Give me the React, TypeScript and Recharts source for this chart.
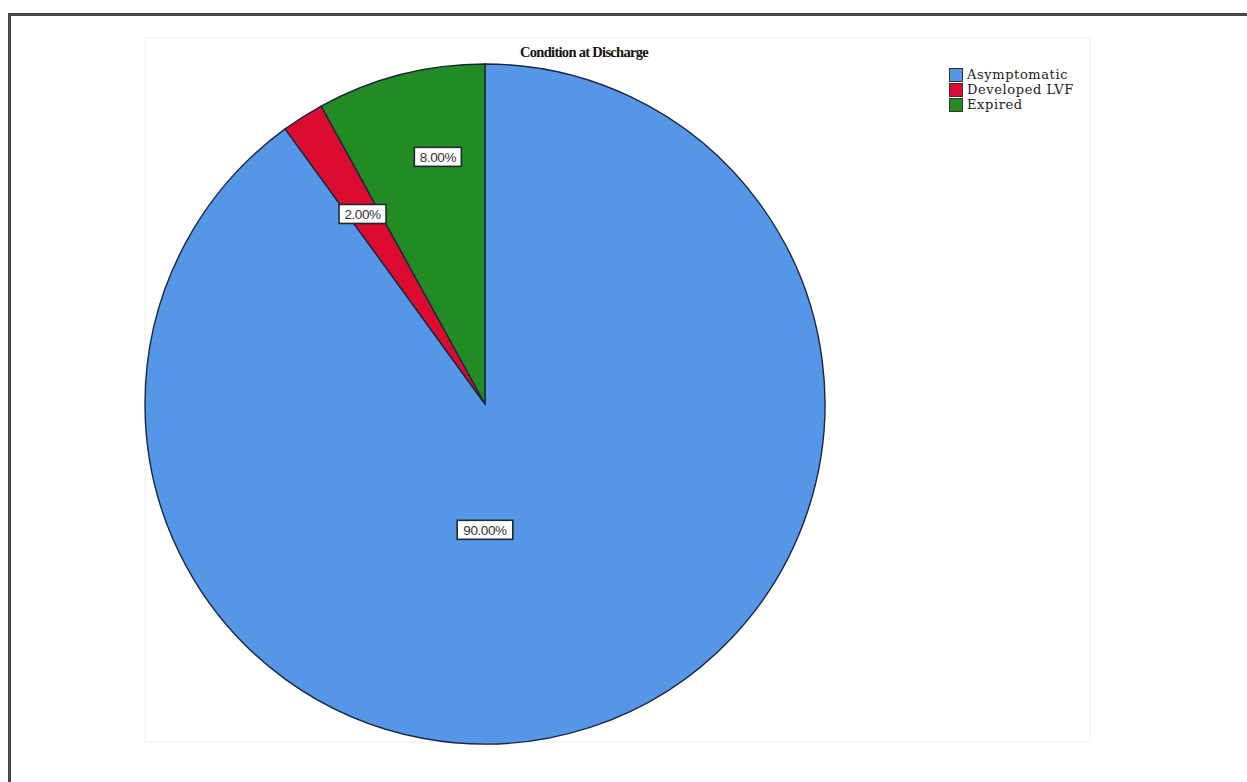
import React from "react";
import { PieChart, Pie, Cell, Legend, Customized } from "recharts";

const categories = ["Asymptomatic", "Developed LVF", "Expired"];
const percentages = [90, 2, 8];
const percentLabels = ["90.00%", "2.00%", "8.00%"];

const COLORS = ["#5596E6", "#DC0C30", "#238B24"];
// label placement: angle (deg clockwise from 12 o'clock) and radius fraction
const LABEL_ANGLE = [180, -32.8, -10.8];
const LABEL_RFRAC = [0.37, 0.665, 0.74];

const data = categories.map((name, i) => ({ name, value: percentages[i] }));

const SERIF = "'DejaVu Serif', 'Liberation Serif', serif";
const TIMES = "'Liberation Serif', 'Times New Roman', serif";
const SANS = "'Liberation Sans', Arial, sans-serif";

const renderLabel = (props: any) => {
  const { cx, cy, outerRadius, index } = props;
  const a = (LABEL_ANGLE[index] * Math.PI) / 180;
  const r = outerRadius * LABEL_RFRAC[index];
  const x = cx + Math.sin(a) * r;
  const y = cy - Math.cos(a) * r;
  const text = percentLabels[index];
  const w = text.length * 8.6 + 4;
  const h = 19;
  return (
    <g key={`lbl-${index}`}>
      <rect x={x - w / 2} y={y - h / 2} width={w} height={h} fill="#ffffff" stroke="#1f2a30" strokeWidth={1.6} />
      <text x={x} y={y + 5} textAnchor="middle" fontFamily={SANS} fontSize={13.5} letterSpacing={-0.4} fill="#333">
        {text}
      </text>
    </g>
  );
};

const renderLegend = () => (
  <div style={{ fontFamily: SERIF, fontSize: 13, letterSpacing: 0.6, color: "#222" }}>
    {categories.map((c, i) => (
      <div key={c} style={{ display: "flex", alignItems: "center", height: 15 }}>
        <span
          style={{
            display: "inline-block",
            width: 14,
            height: 14,
            background: COLORS[i],
            border: "1px solid #333",
            marginRight: 4,
            boxSizing: "border-box",
          }}
        />
        <span>{c}</span>
      </div>
    ))}
  </div>
);

const Frame = () => (
  <g>
    <rect x={145} y={38} width={945} height={704} fill="none" stroke="#f0f0f0" strokeWidth={1} />
    <text x={584} y={57} textAnchor="middle" fontFamily={TIMES} fontWeight="bold" fontSize={14.5} letterSpacing={-0.7} fill="#111">
      Condition at Discharge
    </text>
  </g>
);

export default function App() {
  return (
    <div style={{ position: "fixed", left: 0, top: 0, width: 1247, height: 782, overflow: "hidden", background: "#fff" }}>
      <div
        style={{
          position: "absolute",
          left: 8,
          top: 13,
          width: 1260,
          height: 800,
          border: "3px solid #474747",
          boxSizing: "border-box",
        }}
      />
      <div style={{ position: "absolute", left: 0, top: 0 }}>
        <PieChart width={1247} height={782} margin={{ top: 0, right: 0, bottom: 0, left: 0 }}>
          <Customized component={Frame} />
          <Pie
            data={data}
            dataKey="value"
            nameKey="name"
            cx={485}
            cy={404}
            outerRadius={340}
            startAngle={90}
            endAngle={-270}
            stroke="#1a2740"
            strokeWidth={1.4}
            label={renderLabel}
            labelLine={false}
            isAnimationActive={false}
          >
            {data.map((d, i) => (
              <Cell key={d.name} fill={COLORS[i]} />
            ))}
          </Pie>
          <Legend
            content={renderLegend}
            layout="vertical"
            verticalAlign="top"
            align="right"
            wrapperStyle={{ position: "absolute", left: 949, top: 67, width: 170 }}
          />
        </PieChart>
      </div>
    </div>
  );
}
